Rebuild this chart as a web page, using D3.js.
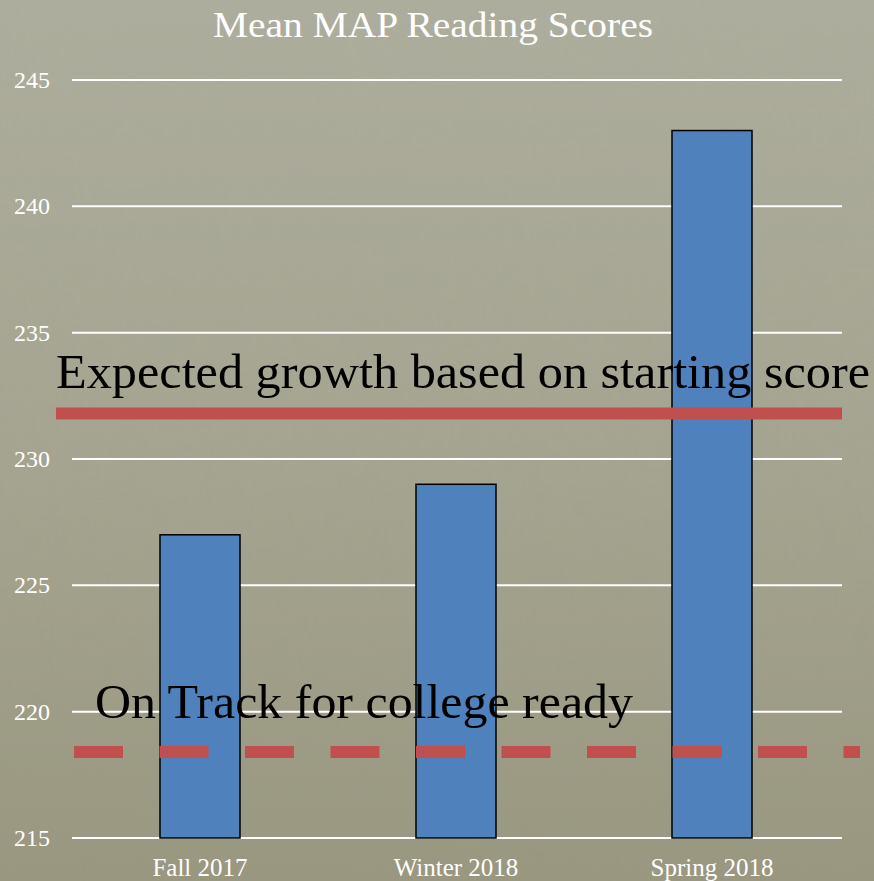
<!DOCTYPE html>
<meta charset="utf-8">
<style>
body { margin: 0; }
svg { display: block; }
.grid line { stroke: #fff; stroke-width: 2px; }
.tick-label, .cat-label, .title { fill: #fff; font-family: "Liberation Serif", "DejaVu Serif", serif; }
.note { fill: #000; font-family: "Liberation Serif", "DejaVu Serif", serif; }
</style>
<body>
<div id="chart"></div>
<script src="https://cdn.jsdelivr.net/npm/d3@7/dist/d3.min.js"></script>
<script>
// data
const categories = ["Fall 2017", "Winter 2018", "Spring 2018"];
const scores = [227, 229, 243];
const yTicks = [215, 220, 225, 230, 235, 240, 245];
const expectedScore = 231.8;
const onTrackScore = 218.4;
const title = "Mean MAP Reading Scores";
const expectedLabel = "Expected growth based on starting score";
const onTrackLabel = "On Track for college ready";

const W = 874, H = 881;

const svg = d3.select("#chart").append("svg")
    .attr("width", W)
    .attr("height", H);

// background, parchment tone with a faint mottle
const defs = svg.append("defs");
const grad = defs.append("linearGradient")
    .attr("id", "bg").attr("x1", 0).attr("y1", 0).attr("x2", 0).attr("y2", 1);
grad.append("stop").attr("offset", "0%").attr("stop-color", "#aeae9e");
grad.append("stop").attr("offset", "55%").attr("stop-color", "#a5a490");
grad.append("stop").attr("offset", "100%").attr("stop-color", "#99977f");
const mottle = defs.append("filter").attr("id", "mottle")
    .attr("x", 0).attr("y", 0).attr("width", "100%").attr("height", "100%");
mottle.append("feTurbulence")
    .attr("type", "fractalNoise").attr("baseFrequency", 0.012)
    .attr("numOctaves", 3).attr("seed", 4);
mottle.append("feColorMatrix")
    .attr("values", "0 0 0 0 0.35  0 0 0 0 0.35  0 0 0 0 0.28  0 0 0 0.18 0");

svg.append("rect").attr("width", W).attr("height", H).attr("fill", "url(#bg)");
svg.append("rect").attr("width", W).attr("height", H)
    .attr("filter", "url(#mottle)").attr("opacity", 0.5);

// scales
const y = d3.scaleLinear().domain([215, 245]).range([838, 80]);
const x = d3.scaleBand().domain(categories).range([72, 840])
    .paddingInner(0.6875).paddingOuter(0.34375);

// gridlines
svg.append("g").attr("class", "grid")
  .selectAll("line").data(yTicks).join("line")
    .attr("x1", 72).attr("x2", 842)
    .attr("y1", d => y(d)).attr("y2", d => y(d));

// y tick labels
svg.append("g")
  .selectAll("text").data(yTicks).join("text")
    .attr("class", "tick-label")
    .attr("x", 50).attr("y", d => y(d))
    .attr("dy", "0.33em")
    .attr("text-anchor", "end")
    .style("font-size", "24px")
    .text(d => d);

// bars
svg.append("g")
  .selectAll("rect").data(scores).join("rect")
    .attr("x", (d, i) => x(categories[i]))
    .attr("y", d => y(d))
    .attr("width", x.bandwidth())
    .attr("height", d => y(215) - y(d))
    .attr("fill", "#4f81bd")
    .attr("stroke", "#000")
    .attr("stroke-width", 1.5);

// category labels
svg.append("g")
  .selectAll("text").data(categories).join("text")
    .attr("class", "cat-label")
    .attr("x", d => x(d) + x.bandwidth() / 2)
    .attr("y", 876)
    .attr("text-anchor", "middle")
    .style("font-size", "25px")
    .text(d => d);

// title
svg.append("text")
    .attr("class", "title")
    .attr("x", 213).attr("y", 37)
    .style("font-size", "35px")
    .attr("textLength", 440)
    .attr("lengthAdjust", "spacingAndGlyphs")
    .text(title);

// expected growth line
svg.append("line")
    .attr("x1", 56).attr("x2", 842)
    .attr("y1", y(expectedScore)).attr("y2", y(expectedScore))
    .attr("stroke", "#c0504d")
    .attr("stroke-width", 12);

svg.append("text")
    .attr("class", "note")
    .attr("x", 56).attr("y", 388)
    .style("font-size", "48px")
    .attr("textLength", 814)
    .attr("lengthAdjust", "spacingAndGlyphs")
    .text(expectedLabel);

// on track line, dashed
svg.append("line")
    .attr("x1", 74).attr("x2", 860)
    .attr("y1", y(onTrackScore)).attr("y2", y(onTrackScore))
    .attr("stroke", "#c0504d")
    .attr("stroke-width", 12)
    .attr("stroke-dasharray", "49,36.5");

svg.append("text")
    .attr("class", "note")
    .attr("x", 95).attr("y", 718)
    .style("font-size", "48px")
    .attr("textLength", 538)
    .attr("lengthAdjust", "spacingAndGlyphs")
    .text(onTrackLabel);

</script>
</body>
